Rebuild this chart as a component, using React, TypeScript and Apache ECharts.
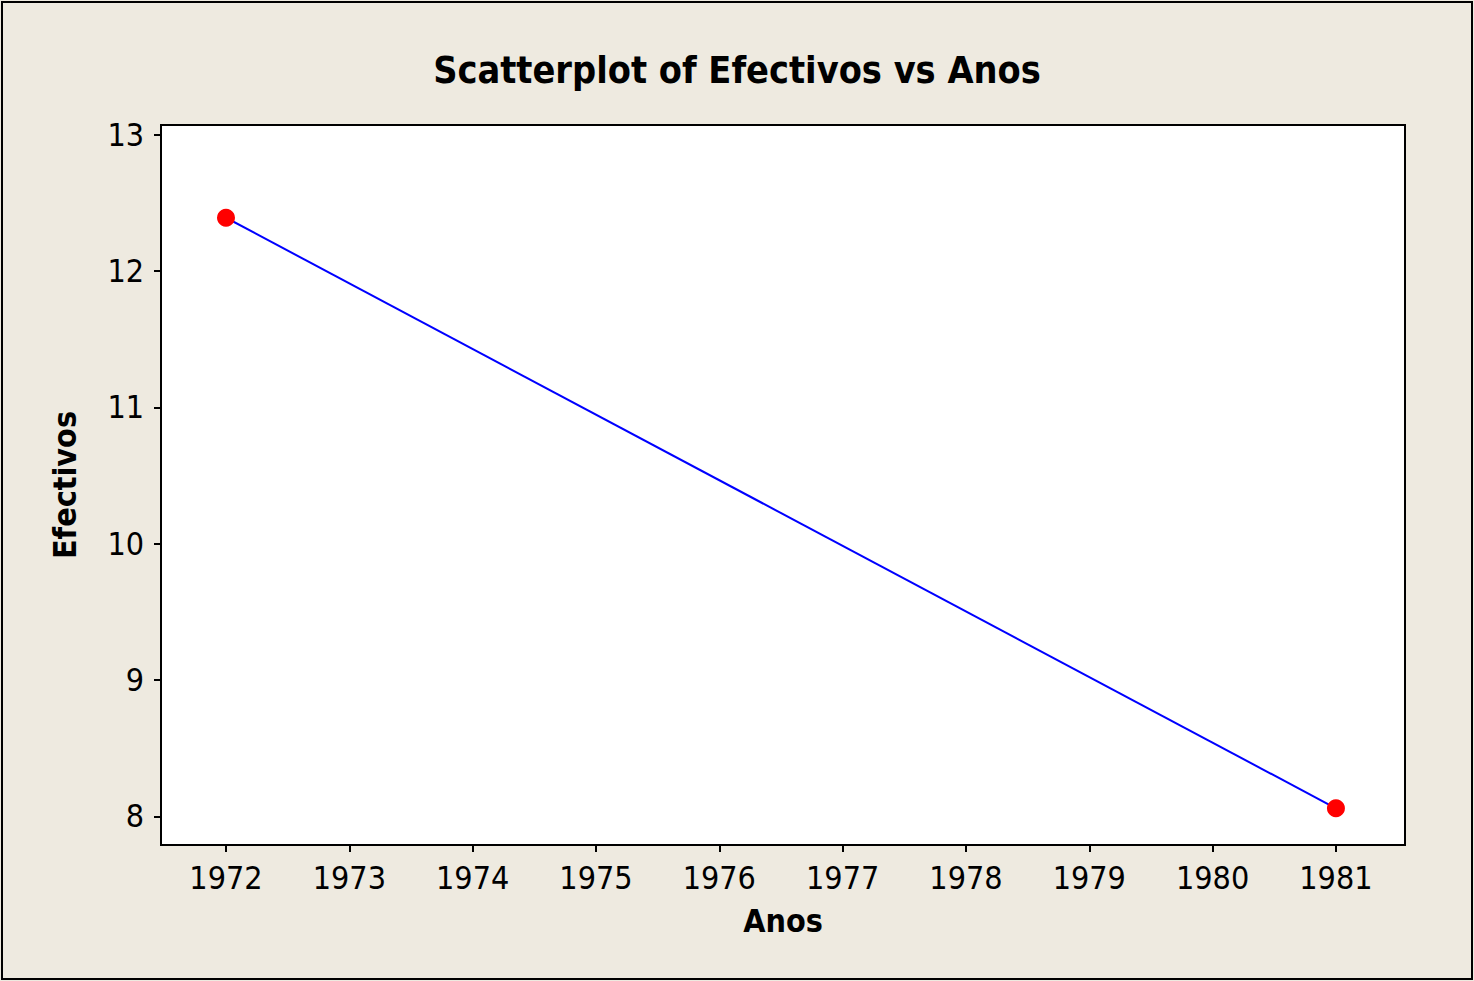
import React, { useEffect, useRef } from "react";
import * as echarts from "echarts";

const titleText = "Scatterplot of Efectivos vs Anos";
const xName = "Anos";
const yName = "Efectivos";
const years = [1972, 1981];
const efectivos = [12.39, 8.06];
const xTicks = [1972, 1973, 1974, 1975, 1976, 1977, 1978, 1979, 1980, 1981];
const yTicks = [8, 9, 10, 11, 12, 13];

const FONT = "Tahoma, 'DejaVu Sans Condensed', 'DejaVu Sans', sans-serif";

export default function App() {
  const ref = useRef<HTMLDivElement>(null);
  useEffect(() => {
    if (!ref.current) return;
    const chart = echarts.init(ref.current, null, { renderer: "svg" });
    chart.setOption({
      animation: false,
      backgroundColor: "#EEEAE0",
      graphic: [
        {
          type: "rect",
          shape: { x: 2, y: 2, width: 1470, height: 977 },
          style: { fill: "none", stroke: "#000", lineWidth: 2 },
          z: 10,
        },
      ],
      title: {
        text: titleText,
        left: "center",
        top: 46,
        textStyle: { fontFamily: FONT, fontWeight: "bold", fontSize: 37.5, color: "#000" },
      },
      grid: {
        left: 161,
        top: 125,
        width: 1244,
        height: 720,
        show: true,
        backgroundColor: "#fff",
        borderColor: "#000",
        borderWidth: 2,
      },
      xAxis: {
        type: "value",
        min: 1971.473,
        max: 1981.56,
        name: xName,
        nameLocation: "middle",
        nameGap: 60,
        nameTextStyle: { fontFamily: FONT, fontWeight: "bold", fontSize: 32, color: "#000" },
        axisLine: { show: true, lineStyle: { color: "#000", width: 2 } },
        axisTick: {
          show: true,
          customValues: xTicks,
          length: 7,
          inside: false,
          lineStyle: { color: "#000", width: 2 },
        },
        axisLabel: {
          customValues: xTicks,
          margin: 17,
          fontFamily: FONT,
          fontSize: 32,
          color: "#000",
          formatter: (v: number) => String(v),
        },
        splitLine: { show: false },
      },
      yAxis: {
        type: "value",
        min: 7.791,
        max: 13.07,
        name: yName,
        nameLocation: "middle",
        nameGap: 80,
        nameRotate: 90,
        nameTextStyle: { fontFamily: FONT, fontWeight: "bold", fontSize: 32, color: "#000" },
        axisLine: { show: true, lineStyle: { color: "#000", width: 2 } },
        axisTick: {
          show: true,
          customValues: yTicks,
          length: 7,
          inside: false,
          lineStyle: { color: "#000", width: 2 },
        },
        axisLabel: {
          customValues: yTicks,
          margin: 17,
          fontFamily: FONT,
          fontSize: 32,
          color: "#000",
          formatter: (v: number) => String(v),
        },
        splitLine: { show: false },
      },
      series: [
        {
          type: "line",
          data: years.map((y, i) => [y, efectivos[i]]),
          symbol: "circle",
          symbolSize: 18,
          lineStyle: { color: "#0000FF", width: 2 },
          itemStyle: { color: "#FF0000" },
          z: 3,
        },
      ],
    });
    return () => chart.dispose();
  }, []);
  return (
    <div
      ref={ref}
      style={{ position: "fixed", left: 0, top: 0, width: 1474, height: 981 }}
    />
  );
}
